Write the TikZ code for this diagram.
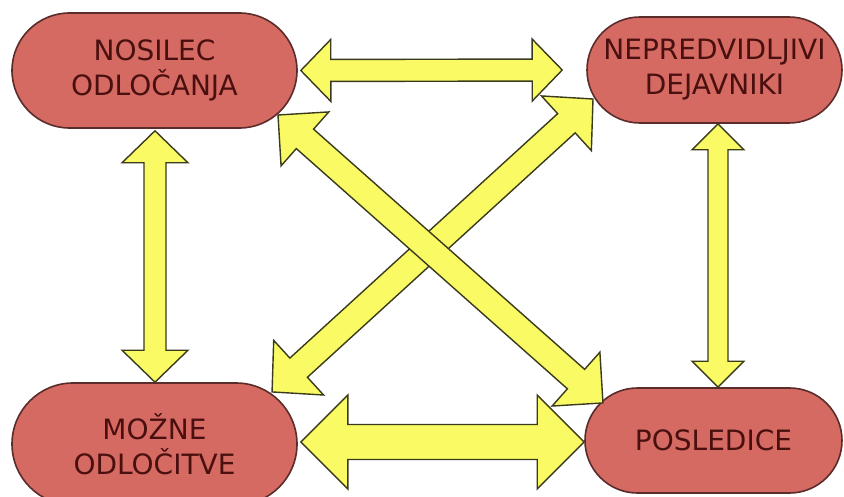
\documentclass[tikz,border=0pt]{standalone}
\usepackage{fontspec}
\setmainfont{DejaVu Sans}
\usetikzlibrary{calc,shapes.misc}

\definecolor{boxfill}{HTML}{D56A63}
\definecolor{boxline}{HTML}{5A2C2A}
\definecolor{boxtext}{HTML}{4A0F0F}
\definecolor{arrowfill}{HTML}{FAFA64}
\definecolor{arrowline}{HTML}{3A3A1C}

% Double-headed block arrow between two named coordinates.
% #1,#2: tips; #3: shaft half-width; #4: head half-width; #5: head length
\newcommand\dblarrow[5]{%
  \pgfpointdiff{\pgfpointanchor{#1}{center}}{\pgfpointanchor{#2}{center}}%
  \pgfgetlastxy{\arrdx}{\arrdy}%
  \pgfmathsetmacro\arrlen{veclen(\arrdx,\arrdy)}%
  \pgfmathsetmacro\arrang{atan2(\arrdy,\arrdx)}%
  \begin{scope}[shift={(#1)},rotate=\arrang]
    \draw[blockarrow] (0,0) -- (#5,#4) -- (#5,#3) -- ({\arrlen-#5},#3)
      -- ({\arrlen-#5},#4) -- (\arrlen,0) -- ({\arrlen-#5},-#4)
      -- ({\arrlen-#5},-#3) -- (#5,-#3) -- (#5,-#4) -- cycle;
  \end{scope}%
}

\tikzset{
  stadium/.style={rounded rectangle, draw=boxline, line width=1.6pt,
    fill=boxfill, text=boxtext, align=center, inner sep=0pt,
    font=\fontsize{28}{35}\selectfont},
  blockarrow/.style={fill=arrowfill, draw=arrowline, line width=1.4pt,
    line join=miter}
}

\begin{document}
\begin{tikzpicture}[x=1pt,y=-1pt]
  \useasboundingbox[fill=white] (0,0) rectangle (844,497);

  % the four stations
  \node[stadium, minimum width=285, minimum height=115] (nos) at (154.5,70.5)
    {NOSILEC\\ODLOČANJA};
  \node[stadium, minimum width=255, minimum height=106] (nep) at (714.5,70)
    {NEPREDVIDLJIVI\\DEJAVNIKI};
  \node[stadium, minimum width=285, minimum height=122] (moz) at (154.5,444)
    {MOŽNE\\ODLOČITVE};
  \node[stadium, minimum width=257, minimum height=105] (pos) at (713.5,440.5)
    {POSLEDICE};

  % arrow end points
  \coordinate (topL) at ($(nos.east)+(3,0)$);
  \coordinate (topR) at ($(nep.west)+(-24,0)$);
  \coordinate (botL) at ($(moz.east)+(3,-2)$);
  \coordinate (botR) at ($(pos.west)+(0,1.5)$);
  \coordinate (lefT) at ($(nos.south)+(0.5,2)$);
  \coordinate (lefB) at ($(moz.north)+(0.5,0)$);
  \coordinate (rigT) at ($(nep.south)+(3.5,0)$);
  \coordinate (rigB) at ($(pos.north)+(4.5,0)$);
  \coordinate (neT)  at (593,99);
  \coordinate (swT)  at (272,392);
  \coordinate (nwT)  at (278,115);
  \coordinate (seT)  at (603,403);

  % connectors
  \dblarrow{topL}{topR}{11}{31}{30}
  \dblarrow{botL}{botR}{17.5}{47}{47}
  \dblarrow{lefT}{lefB}{11}{33}{32}
  \dblarrow{rigT}{rigB}{10}{26}{26}
  \dblarrow{neT}{swT}{13}{37}{36}
  \dblarrow{nwT}{seT}{13}{36}{36}
\end{tikzpicture}
\end{document}
